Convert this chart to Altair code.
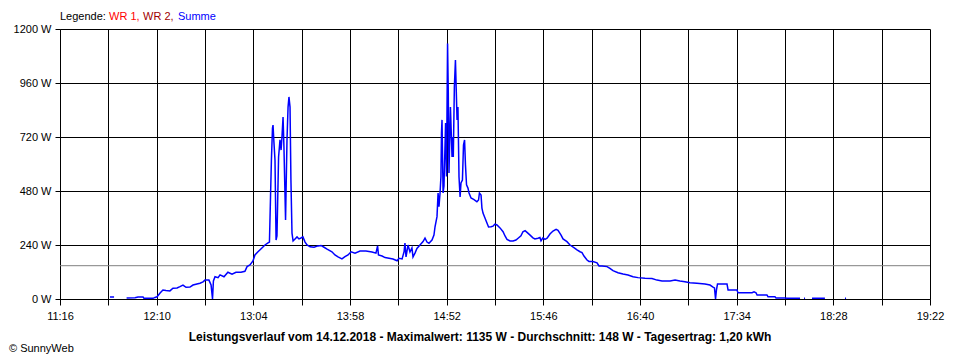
import altair as alt
import pandas as pd

# time of day in minutes since midnight (11:16 = 676)
minutes = [703.4, 703.9, 706.2, 706.4, 712.9, 713.2, 717.9, 719.6, 722.4, 722.9,
           728.0, 729.1, 730.2, 731.9, 733.5, 735.2, 737.4, 739.1, 741.4, 743.0,
           744.7, 746.4, 748.6, 750.3, 752.5, 754.2, 755.9, 757.0, 759.2, 760.4,
           761.2, 761.7, 762.6, 764.3, 765.4, 767.6, 769.8, 772.1, 774.3, 777.1,
           779.3, 780.5, 782.1, 783.8, 784.9, 786.6, 788.8, 790.5, 792.2, 793.0,
           793.6, 794.1, 794.7, 795.0, 795.5, 796.1, 796.7, 797.2, 798.1, 798.9,
           799.5, 800.0, 800.6, 801.1, 802.0, 802.8, 803.4, 803.9, 804.5, 805.0,
           805.6, 806.2, 807.3, 808.4, 809.5, 810.6, 811.7, 812.9, 814.0, 815.7,
           817.9, 820.1, 821.8, 823.5, 825.2, 827.9, 829.6, 831.3, 833.5, 835.2,
           836.9, 838.6, 840.8, 843.6, 846.9, 850.3, 852.5, 853.4, 853.9, 855.9,
           857.6, 859.8, 862.0, 864.3, 865.4, 867.1, 868.2, 868.7, 869.3, 870.4,
           871.5, 872.6, 873.2, 874.3, 875.4, 877.1, 878.8, 879.9, 881.0, 882.1,
           883.8, 884.9, 885.5, 886.6, 887.2, 887.7, 888.3, 888.8, 889.1, 889.4,
           890.0, 890.5, 891.4, 891.9, 892.5, 892.9, 893.3, 894.1, 895.0, 895.4,
           895.7, 896.3, 896.9, 897.8, 898.3, 898.9, 899.5, 900.0, 900.8, 901.4,
           902.0, 902.5, 903.1, 903.9, 904.5, 905.6, 907.3, 908.9, 909.8, 910.3,
           911.2, 911.7, 912.3, 913.4, 914.5, 915.4, 916.8, 917.9, 919.0, 920.1,
           921.8, 923.5, 924.6, 925.7, 927.4, 929.1, 930.7, 931.9, 933.5, 934.6,
           935.8, 936.9, 938.6, 940.2, 941.3, 943.0, 944.1, 944.7, 945.8, 946.9,
           948.1, 949.7, 951.4, 953.1, 954.2, 955.9, 957.0, 959.2, 960.9, 963.1,
           964.8, 966.5, 967.6, 968.7, 970.4, 971.5, 973.7, 976.0, 977.1, 978.8,
           981.6, 983.2, 984.9, 987.7, 990.5, 993.3, 996.1, 998.9, 1002.8, 1006.7,
           1009.5, 1012.3, 1016.8, 1019.6, 1022.3, 1025.1, 1027.9, 1031.8, 1036.3, 1039.1,
           1040.8, 1041.6, 1042.2, 1042.7, 1043.3, 1048.6, 1049.2, 1054.2, 1054.7, 1062.6,
           1063.7, 1064.8, 1065.4, 1070.9, 1071.5, 1075.4, 1076.0, 1081.0, 1082.1, 1089.4,
           1089.9, 1091.6, 1092.2, 1092.7, 1096.1, 1096.6, 1103.3, 1103.9, 1114.5, 1115.1,
           1116.2]

# Summe (W); None = no value
watts = [None, 9, 9, None, None, 4, 6, 9, 9, 3,
         3, 7, 10, 27, 40, 38, 36, 48, 49, 55,
         62, 52, 53, 62, 67, 70, 76, 84, 84, 62,
         0, 80, 99, 95, 107, 99, 119, 110, 119, 119,
         123, 144, 151, 169, 196, 210, 227, 240, 249, 253,
         453, 618, 760, 773, 698, 618, 262, 280, 631, 707,
         662, 720, 809, 676, 351, 707, 853, 898, 853, 529,
         293, 258, 267, 276, 267, 271, 276, 253, 240, 232,
         230, 236, 238, 230, 222, 210, 196, 187, 178, 188,
         196, 210, 204, 213, 213, 209, 204, 236, 196, 191,
         184, 181, 178, 170, 181, 178, 210, 249, 187, 240,
         209, 227, 187, 204, 225, 240, 255, 271, 253, 248,
         262, 284, 321, 366, 471, 410, 470, 544, 738, 796,
         471, 502, 782, 544, 1135, 916, 560, 853, 631, 720,
         631, 942, 1062, 796, 853, 542, 453, 516, 529, 684,
         707, 596, 507, 493, 471, 449, 442, 432, 440, 471,
         462, 404, 382, 360, 338, 320, 321, 324, 333, 329,
         316, 299, 280, 265, 258, 258, 262, 270, 281, 299,
         304, 296, 284, 272, 267, 270, 273, 259, 272, 265,
         270, 289, 302, 310, 305, 284, 267, 255, 240, 228,
         218, 210, 206, 191, 173, 167, 167, 161, 147, 147,
         144, 136, 126, 117, 111, 107, 99, 95, 92, 91,
         84, 80, 80, 84, 80, 77, 72, 70, 67, 62,
         53, 49, 0, 40, 67, 67, 40, 40, 28, 28,
         32, 28, 18, 18, 10, 10, 4, 4, 3, 3,
         None, 3, 3, None, 3, 3, 3, None, 3, 3,
         None]

average_w = 148
y_ticks = [0, 240, 480, 720, 960, 1200]
x_start, x_end, x_step = 676, 1162, 27
x_ticks = list(range(x_start, x_end + 1, x_step))

legend_parts = ["Legende:", "WR 1,", "WR 2,", "Summe"]
legend_colors = ["#000000", "#ff0000", "#a00000", "#0000ff"]
legend_x = [0, 49, 83, 118]
title_text = ("Leistungsverlauf vom 14.12.2018 - Maximalwert: 1135 W - "
              "Durchschnitt: 148 W - Tagesertrag: 1,20 kWh")
copyright_text = "© SunnyWeb"

FONT = "Liberation Sans"

df = pd.DataFrame({"t": minutes, "w": watts})

x_scale = alt.Scale(domain=[x_start, x_end], nice=False, zero=False)
y_scale = alt.Scale(domain=[0, 1200], nice=False)

label_expr_x = (
    f"(datum.value - {x_start}) % 54 == 0 ? "
    "(floor(datum.value / 60) + ':' + (datum.value % 60 < 10 ? '0' : '') + (datum.value % 60)) : ''"
)

x_axis = alt.Axis(values=x_ticks, labelExpr=label_expr_x, grid=True, gridColor="#000000",
                  gridOpacity=1, gridWidth=1, domainColor="#000000", tickColor="#000000",
                  tickSize=6, labelPadding=5, labelFlush=False, labelOverlap=False,
                  labelFont=FONT, labelFontSize=11, labelColor="#000000", title=None)
y_axis = alt.Axis(values=y_ticks, labelExpr="datum.value + ' W'", grid=True, gridColor="#000000",
                  gridOpacity=1, gridWidth=1, domainColor="#000000", tickColor="#000000",
                  tickSize=5, labelPadding=4, labelFont=FONT, labelFontSize=11,
                  labelColor="#000000", title=None)

line = alt.Chart(df).mark_line(color="#0000ff", strokeWidth=1.5,
                               invalid="break-paths-show-domains").encode(
    x=alt.X("t:Q", scale=x_scale, axis=x_axis),
    y=alt.Y("w:Q", scale=y_scale, axis=y_axis),
)

avg = alt.Chart(pd.DataFrame({"avg": [average_w]})).mark_rule(
    color="#808080", strokeWidth=1).encode(y=alt.Y("avg:Q", scale=y_scale))

layers = [avg, line]
for txt, col, px in zip(legend_parts, legend_colors, legend_x):
    layers.append(
        alt.Chart(pd.DataFrame({"label": [txt]})).mark_text(
            align="left", baseline="middle", font=FONT, fontSize=11, color=col
        ).encode(x=alt.value(px), y=alt.value(-12), text="label:N")
    )

layers.append(
    alt.Chart(pd.DataFrame({"label": [title_text]})).mark_text(
        align="center", baseline="middle", font=FONT, fontSize=12, fontWeight="bold",
        color="#000000"
    ).encode(x=alt.value(420), y=alt.value(308), text="label:N")
)
layers.append(
    alt.Chart(pd.DataFrame({"label": [copyright_text]})).mark_text(
        align="left", baseline="middle", font=FONT, fontSize=11, color="#000000"
    ).encode(x=alt.value(-51), y=alt.value(320), text="label:N")
)

chart = alt.layer(*layers).properties(
    width=870, height=270,
    autosize=alt.AutoSizeParams(type="none"),
    padding={"left": 52, "top": 21, "right": 20, "bottom": 56},
    background="#ffffff",
).configure_view(strokeWidth=0)

chart.save("out.html", embed_options={"renderer": "svg", "actions": False})
